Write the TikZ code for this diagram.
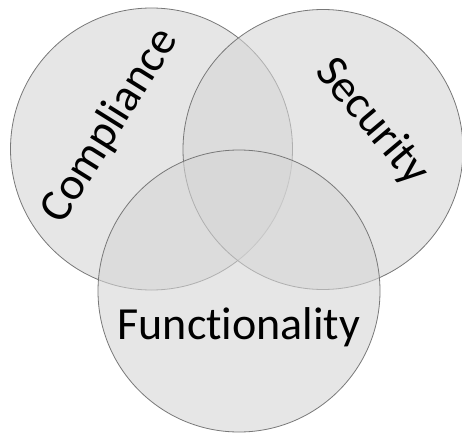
\documentclass[tikz,border=0pt]{standalone}
\usepackage{fontspec}
\setmainfont{Carlito}[Ligatures={NoCommon,NoRequired,NoContextual}]
\definecolor{vfill}{RGB}{213,213,213}
\definecolor{vline}{RGB}{120,120,120}
\begin{document}
\begin{tikzpicture}[x=1pt,y=-1pt,
  vset/.style={circle,fill=vfill,fill opacity=0.6,draw=vline,line width=0.8pt,inner sep=0pt},
  vlabel/.style={font=\fontsize{46}{46}\selectfont,text=black,inner sep=0pt}]
\useasboundingbox (0,0) rectangle (462,433);
\node[vset,minimum size=282pt] (comp) at (151.5,149) {};
\node[vset,minimum size=280pt] (sec) at (323,149.5) {};
\node[vset,minimum size=282pt] (func) at (239,291) {};
\node[vlabel,rotate=58] (tcomp) at (110,126) {Compliance};
\node[vlabel,rotate=-50] (tsec) at (372,122) {Security};
\node[vlabel,anchor=base] (tfunc) at (239,339) {Functionality};
\end{tikzpicture}
\end{document}
